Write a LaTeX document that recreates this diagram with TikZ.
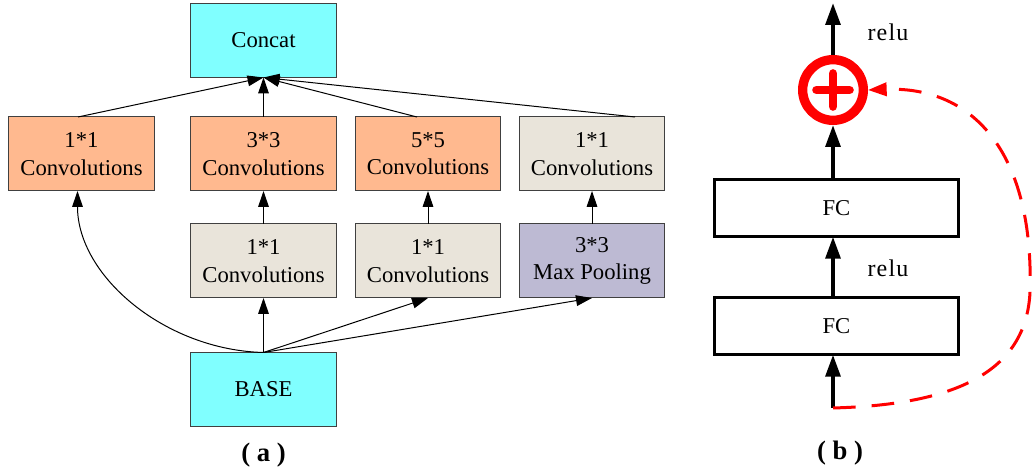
\documentclass[tikz,border=0pt]{standalone}
\usepackage{fontspec}
\setmainfont{Liberation Serif}
\usetikzlibrary{arrows.meta,calc}
\definecolor{cyanbox}{HTML}{80FFFF}
\definecolor{peach}{HTML}{FFB98F}
\definecolor{beige}{HTML}{E9E4DA}
\definecolor{lavender}{HTML}{BDBAD3}
\definecolor{rim}{HTML}{404040}
\begin{document}
\begin{tikzpicture}[x=0.75pt,y=-0.75pt,
  layer/.style={draw=rim, line width=0.75pt, minimum width=109pt, minimum height=55.5pt,
    inner sep=0pt, outer sep=0pt, align=center, font=\fontsize{17}{20.5}\selectfont},
  flow/.style={-{Triangle[length=12pt,width=8pt]}, line width=0.75pt},
  fcbox/.style={draw, line width=2.4pt, minimum width=183pt, minimum height=43pt,
    inner sep=0pt, outer sep=0pt, font=\fontsize{17}{20}\selectfont},
  bigflow/.style={-{Triangle[length=16.5pt,width=11pt]}, line width=3pt},
  skip/.style={red, line width=2.25pt, dash pattern=on 17pt off 12pt,
    -{Triangle[length=14pt,width=10pt]}},
  label/.style={font=\fontsize{18}{21}\selectfont\addfontfeature{LetterSpace=5}},
  caption/.style={font=\fontsize{20}{24}\selectfont\bfseries}]
\useasboundingbox (0,0) rectangle (1032,473);

% ---------------- (a) inception block ----------------
\node[layer, fill=cyanbox] (concat) at (263.5,40.5) {Concat};

\node[layer, fill=peach]    (c1) at (81.5,154) {1*1\\Convolutions};
\node[layer, fill=peach]    (c2) at (263.5,154) {3*3\\Convolutions};
\node[layer, fill=peach]    (c3) at (428,154) {5*5\\Convolutions};
\node[layer, fill=beige]    (c4) at (592,154) {1*1\\Convolutions};

\node[layer, fill=beige]    (r2) at (263.5,261) {1*1\\Convolutions};
\node[layer, fill=beige]    (r3) at (428,261) {1*1\\Convolutions};
\node[layer, fill=lavender] (pool) at (592,261) {3*3\\Max Pooling};

\node[layer, fill=cyanbox] (base) at (263.5,389.5) {BASE};

% branch outputs into the concatenation
\draw[flow] ($(c1.north)+(-3.5,0)$) -- (concat.south);
\draw[flow] (c2.north) -- (concat.south);
\draw[flow] ($(c3.north)+(-11,0)$) -- (concat.south);
\draw[flow] ($(c4.north)+(43,0)$) -- (concat.south);

% reduction layers into the wide convolutions
\draw[flow] (r2.north) -- (c2.south);
\draw[flow] (r3.north) -- (c3.south);
\draw[flow] (pool.north) -- (c4.south);

% input fan-out
\draw[flow] (base.north) -- (r2.south);
\draw[flow] (base.north) -- (r3.south);
\draw[flow] (base.north) -- (pool.south);
\draw[flow] (base.north) .. controls (165,350) and ($(c1.south)+(-4,85)$) .. ($(c1.south)+(-4,0)$);

\node[caption] (capa) at (263.5,455) {( a )};

% ---------------- (b) residual block ----------------
\node[fcbox] (fc2) at (836.5,208) {FC};
\node[fcbox] (fc1) at (836.5,326) {FC};

\node[circle, draw=red, line width=7pt, minimum size=45.5pt, inner sep=0pt,
  outer sep=3.5pt] (sum) at (833,90) {};
\draw[red, line width=6.5pt, line cap=round] ($(sum.center)+(-16.5,0)$) -- ($(sum.center)+(16.5,0)$);
\draw[red, line width=6.5pt, line cap=round] ($(sum.center)+(0,-16.5)$) -- ($(sum.center)+(0,16.5)$);

\coordinate (out) at (833,3);
\coordinate (in) at (833,408);

\draw[bigflow] (sum.north) -- (out);
\draw[bigflow] (fc2.north -| sum) -- (sum.south);
\draw[bigflow] (fc1.north -| sum) -- (fc2.south -| sum);
\draw[bigflow] (in) -- (fc1.south -| in);

\draw[skip] (in) .. controls (940,405) and (1026,380) .. (1030,292)
  .. controls (1034,155) and (975,86) .. (sum.east);

\node[label] (relu2) at (888,32) {relu};
\node[label] (relu1) at (888,268) {relu};

\node[caption] (capb) at (840,453) {( b )};
\end{tikzpicture}
\end{document}
